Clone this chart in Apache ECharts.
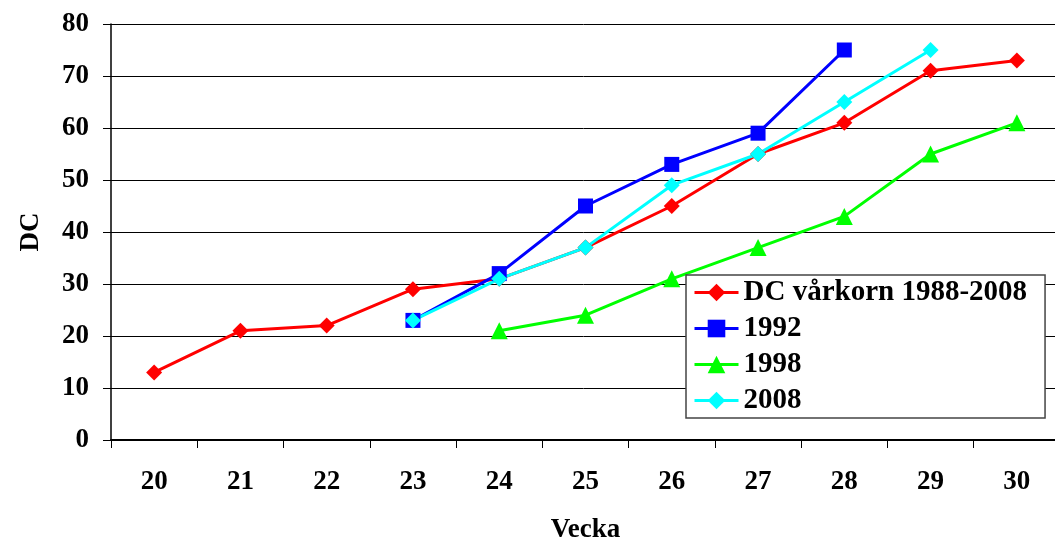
<!DOCTYPE html>
<html>
<head>
<meta charset="utf-8">
<script src="https://cdn.jsdelivr.net/npm/echarts@6/dist/echarts.min.js"></script>
<style>
  html, body { margin: 0; padding: 0; background: #fff; }
  #chart { width: 1055px; height: 540px; }
</style>
</head>
<body>
<div id="chart"></div>
<script>
  // veckor
  const weeks = ['20', '21', '22', '23', '24', '25', '26', '27', '28', '29', '30'];

  // DC-värden per vecka ('-' = saknas)
  const dcMean = [13, 21, 22, 29, 31, 37, 45, 55, 61, 71, 73];
  const dc1992 = ['-', '-', '-', 23, 32, 45, 53, 59, 75, '-', '-'];
  const dc1998 = ['-', '-', '-', '-', 21, 24, 31, 37, 43, 55, 61];
  const dc2008 = ['-', '-', '-', 23, 31, 37, 49, 55, 65, 75, '-'];

  const seriesNames = ['DC vårkorn 1988-2008', '1992', '1998', '2008'];

  const FONT = '"Liberation Serif", "Times New Roman", serif';

  const chart = echarts.init(document.getElementById('chart'));

  const makeLine = (name, data, color, symbol, size) => ({
    name,
    type: 'line',
    data,
    symbol,
    symbolSize: size,
    lineStyle: { color, width: 3 },
    itemStyle: { color },
    connectNulls: false,
    animation: false,
  });

  const option = {
    backgroundColor: '#fff',
    textStyle: { fontFamily: FONT },
    grid: {
      left: 111,
      top: 24,
      width: 949,
      height: 416,
      containLabel: false,
      outerBoundsMode: 'none',
    },
    legend: {
      data: seriesNames,
      orient: 'vertical',
      left: 686,
      top: 275,
      backgroundColor: '#fff',
      borderColor: '#444',
      borderWidth: 1.5,
      borderRadius: 0,
      padding: [3, 18, 3, 7],
      itemGap: 7,
      itemWidth: 44,
      itemHeight: 22,
      lineStyle: { width: 3 },
      textStyle: {
        fontFamily: FONT,
        fontWeight: 'bold',
        fontSize: 29,
        lineHeight: 26,
        color: '#000',
      },
    },
    xAxis: {
      type: 'category',
      data: weeks,
      boundaryGap: true,
      name: 'Vecka',
      nameLocation: 'middle',
      nameGap: 77,
      nameTextStyle: { fontFamily: FONT, fontWeight: 'bold', fontSize: 27, color: '#000' },
      axisLine: { lineStyle: { color: '#000', width: 2 } },
      axisTick: { show: true, length: 8, lineStyle: { color: '#000', width: 1 } },
      axisLabel: {
        margin: 29,
        fontFamily: FONT,
        fontWeight: 'bold',
        fontSize: 27,
        color: '#000',
      },
      splitLine: { show: false },
    },
    yAxis: {
      type: 'value',
      min: 0,
      max: 80,
      interval: 10,
      name: 'DC',
      nameLocation: 'middle',
      nameGap: 66,
      nameRotate: 90,
      nameTextStyle: { fontFamily: FONT, fontWeight: 'bold', fontSize: 27, color: '#000' },
      axisLine: { show: true, lineStyle: { color: '#000', width: 1.5 } },
      axisTick: { show: true, length: 8, lineStyle: { color: '#000', width: 1 } },
      axisLabel: {
        margin: 22,
        fontFamily: FONT,
        fontWeight: 'bold',
        fontSize: 27,
        color: '#000',
      },
      splitLine: { show: true, lineStyle: { color: '#000', width: 1 } },
    },
    series: [
      makeLine(seriesNames[0], dcMean, '#ff0000', 'diamond', 16),
      makeLine(seriesNames[1], dc1992, '#0000ff', 'rect', 15),
      makeLine(seriesNames[2], dc1998, '#00ff00', 'triangle', 17),
      makeLine(seriesNames[3], dc2008, '#00ffff', 'diamond', 16),
    ],
  };

  chart.setOption(option);
</script>
</body>
</html>
